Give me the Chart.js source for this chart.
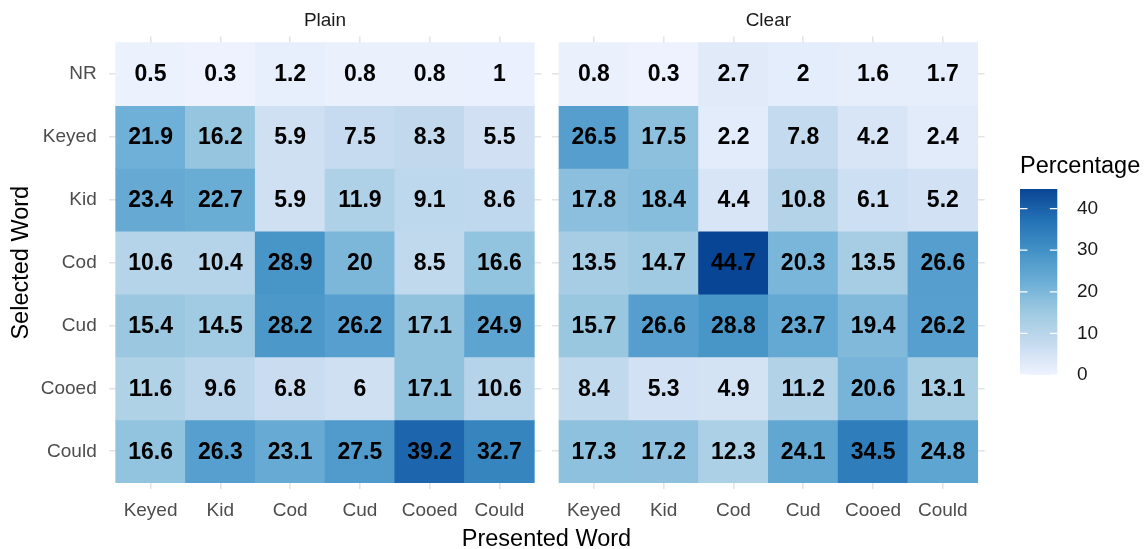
<!DOCTYPE html>
<html>
<head>
<meta charset="utf-8">
<title>Selected vs Presented Word</title>
<script src="https://cdn.jsdelivr.net/npm/chart.js@4.4.0/dist/chart.umd.min.js"></script>
<style>
  body { margin: 0; background: #fff; }
  #wrap { position: relative; width: 1146px; height: 549px; overflow: hidden;
          font-family: "Liberation Sans", Arial, sans-serif; }
  #wrap canvas { position: absolute; }
  #xtitle { position: absolute; left: 0; width: 1093px; top: 524px; line-height: 28px;
            text-align: center; font-size: 23.5px; color: #000; }
</style>
</head>
<body>
<div id="wrap">
  <canvas id="plain" width="548" height="549" style="left:0;top:0"></canvas>
  <canvas id="clear" width="450" height="549" style="left:548px;top:0"></canvas>
  <canvas id="scale" width="146" height="259" style="left:1000px;top:140px"></canvas>
  <div id="xtitle">Presented Word</div>
</div>
<script>
// categories
const presented = ["Keyed", "Kid", "Cod", "Cud", "Cooed", "Could"];
const selected = ["NR", "Keyed", "Kid", "Cod", "Cud", "Cooed", "Could"];

// percentages, one row per selected word
const plainValues = [
  [0.5, 0.3, 1.2, 0.8, 0.8, 1],
  [21.9, 16.2, 5.9, 7.5, 8.3, 5.5],
  [23.4, 22.7, 5.9, 11.9, 9.1, 8.6],
  [10.6, 10.4, 28.9, 20, 8.5, 16.6],
  [15.4, 14.5, 28.2, 26.2, 17.1, 24.9],
  [11.6, 9.6, 6.8, 6, 17.1, 10.6],
  [16.6, 26.3, 23.1, 27.5, 39.2, 32.7]
];
const clearValues = [
  [0.8, 0.3, 2.7, 2, 1.6, 1.7],
  [26.5, 17.5, 2.2, 7.8, 4.2, 2.4],
  [17.8, 18.4, 4.4, 10.8, 6.1, 5.2],
  [13.5, 14.7, 44.7, 20.3, 13.5, 26.6],
  [15.7, 26.6, 28.8, 23.7, 19.4, 26.2],
  [8.4, 5.3, 4.9, 11.2, 20.6, 13.1],
  [17.3, 17.2, 12.3, 24.1, 34.5, 24.8]
];

// colour scale
const legendTicks = [0, 10, 20, 30, 40];
const fillLimits = [0, 44.7];
const blues = ["#EFF3FF", "#C6DBEF", "#9ECAE1", "#6BAED6", "#4292C6", "#2171B5", "#084594"];

const FONT = '"Liberation Sans", Arial, sans-serif';
Chart.defaults.font.family = FONT;

// --- Lab interpolation for the fill gradient ---
function toLab(hex) {
  const c = [1, 3, 5].map(k => parseInt(hex.substr(k, 2), 16) / 255)
    .map(v => v <= 0.04045 ? v / 12.92 : Math.pow((v + 0.055) / 1.055, 2.4));
  const X = (c[0] * 0.4124 + c[1] * 0.3576 + c[2] * 0.1805) / 0.95047;
  const Y = c[0] * 0.2126 + c[1] * 0.7152 + c[2] * 0.0722;
  const Z = (c[0] * 0.0193 + c[1] * 0.1192 + c[2] * 0.9505) / 1.08883;
  const f = t => t > 0.008856 ? Math.cbrt(t) : 7.787 * t + 16 / 116;
  return [116 * f(Y) - 16, 500 * (f(X) - f(Y)), 200 * (f(Y) - f(Z))];
}
function fromLab(lab) {
  const fy = (lab[0] + 16) / 116, fx = fy + lab[1] / 500, fz = fy - lab[2] / 200;
  const g = t => t > 0.206893 ? t * t * t : (t - 16 / 116) / 7.787;
  const X = g(fx) * 0.95047, Y = g(fy), Z = g(fz) * 1.08883;
  const lin = [
    X * 3.2406 - Y * 1.5372 - Z * 0.4986,
    -X * 0.9689 + Y * 1.8758 + Z * 0.0415,
    X * 0.0557 - Y * 0.2040 + Z * 1.0570
  ];
  const rgb = lin.map(v => v <= 0.0031308 ? 12.92 * v : 1.055 * Math.pow(v, 1 / 2.4) - 0.055)
    .map(v => Math.round(Math.min(1, Math.max(0, v)) * 255));
  return "rgb(" + rgb.join(",") + ")";
}
const bluesLab = blues.map(toLab);
function fillColor(v) {
  let t = (v - fillLimits[0]) / (fillLimits[1] - fillLimits[0]);
  t = Math.min(1, Math.max(0, t)) * (bluesLab.length - 1);
  const k = Math.min(Math.floor(t), bluesLab.length - 2);
  const f = t - k;
  const a = bluesLab[k], b = bluesLab[k + 1];
  return fromLab([0, 1, 2].map(i => a[i] + (b[i] - a[i]) * f));
}

// value written in the middle of each tile
function cellLabels(values) {
  return {
    id: "cellLabels",
    afterDatasetsDraw(chart) {
      const ctx = chart.ctx;
      ctx.save();
      ctx.font = "bold 23px " + FONT;
      ctx.fillStyle = "#000";
      ctx.textAlign = "center";
      ctx.textBaseline = "middle";
      chart.data.datasets.forEach((ds, i) => {
        chart.getDatasetMeta(i).data.forEach((bar, j) => {
          const p = bar.getProps(["x", "y", "base"], true);
          ctx.fillText(String(values[i][j]), p.x, (p.y + p.base) / 2 + 1);
        });
      });
      ctx.restore();
    }
  };
}

const gridStyle = { color: "#E4E4E4", lineWidth: 1.6, drawTicks: false, offset: false };

function heatmap(id, title, values, withYAxis, padding) {
  const datasets = selected.map((row, i) => ({
    label: row,
    data: presented.map((col, j) => ({ x: j, y: [i - 0.5, i + 0.5] })),
    backgroundColor: values[i].map(fillColor),
    borderWidth: 0,
    barPercentage: 1,
    categoryPercentage: 1,
    grouped: false
  }));

  return new Chart(document.getElementById(id), {
    type: "bar",
    data: { datasets },
    plugins: [cellLabels(values)],
    options: {
      responsive: false,
      animation: false,
      events: [],
      layout: { padding },
      plugins: {
        legend: { display: false },
        tooltip: { enabled: false },
        title: {
          display: true, text: title, fullSize: false, color: "#1A1A1A",
          font: { size: 19, weight: "normal" }, padding: { top: 9, bottom: 4.6 }
        }
      },
      scales: {
        x: {
          type: "linear", min: -0.6, max: 5.6, offset: false,
          grid: gridStyle, border: { display: false },
          afterBuildTicks: s => { s.ticks = presented.map((_, j) => ({ value: j })); },
          afterFit: s => { s.height = 60; },
          ticks: {
            autoSkip: false, maxRotation: 0, padding: 10, color: "#4D4D4D",
            font: { size: 19 }, callback: v => presented[v]
          }
        },
        y: {
          type: "linear", min: -0.6, max: 6.6, reverse: true, offset: false,
          grid: gridStyle, border: { display: false },
          afterBuildTicks: s => { s.ticks = selected.map((_, i) => ({ value: i })); },
          afterFit: s => { s.width = withYAxis ? 108.7 : 0; },
          title: {
            display: withYAxis, text: "Selected Word", color: "#000",
            font: { size: 23.5 }, padding: { top: 7.3, bottom: 0 }
          },
          ticks: {
            display: withYAxis, autoSkip: false, padding: 12, color: "#4D4D4D",
            font: { size: 19 }, callback: v => selected[v]
          }
        }
      }
    }
  });
}

heatmap("plain", "Plain", plainValues, true, { left: 0, right: 6.7, top: 0, bottom: 0 });
heatmap("clear", "Clear", clearValues, false, { left: 4, right: 13.3, top: 0, bottom: 0 });

// colour bar legend
const colourBar = {
  id: "colourBar",
  beforeDatasetsDraw(chart) {
    const { left, right, top, bottom } = chart.chartArea;
    const y = chart.scales.y, ctx = chart.ctx;
    ctx.save();
    for (let p = Math.floor(top); p < Math.ceil(bottom); p++) {
      ctx.fillStyle = fillColor(y.getValueForPixel(p + 0.5));
      ctx.fillRect(left, Math.max(p, top), right - left, Math.min(p + 1, bottom) - Math.max(p, top));
    }
    ctx.restore();
  },
  afterDraw(chart) {
    const { left, right } = chart.chartArea;
    const y = chart.scales.y, ctx = chart.ctx;
    const len = (right - left) / 5;
    ctx.save();
    ctx.strokeStyle = "#fff";
    ctx.lineWidth = 1.3;
    legendTicks.forEach(v => {
      const py = y.getPixelForValue(v);
      ctx.beginPath();
      ctx.moveTo(left, py); ctx.lineTo(left + len, py);
      ctx.moveTo(right - len, py); ctx.lineTo(right, py);
      ctx.stroke();
    });
    ctx.restore();
  }
};

new Chart(document.getElementById("scale"), {
  type: "scatter",
  data: { datasets: [] },
  plugins: [colourBar],
  options: {
    responsive: false,
    animation: false,
    events: [],
    layout: { padding: { left: 20, right: 0, top: 0, bottom: 24 } },
    plugins: {
      legend: { display: false },
      tooltip: { enabled: false },
      title: {
        display: true, text: "Percentage", align: "start", color: "#000",
        font: { size: 23.5, weight: "normal" }, padding: { top: 12.4, bottom: 8.4 }
      }
    },
    scales: {
      x: { display: false },
      y: {
        position: "right", min: fillLimits[0], max: fillLimits[1],
        grid: { display: false }, border: { display: false },
        afterBuildTicks: s => { s.ticks = legendTicks.map(v => ({ value: v })); },
        afterFit: s => { s.width = 88.7; },
        ticks: { padding: 11.7, color: "#1A1A1A", font: { size: 19 } }
      }
    }
  }
});
</script>
</body>
</html>
